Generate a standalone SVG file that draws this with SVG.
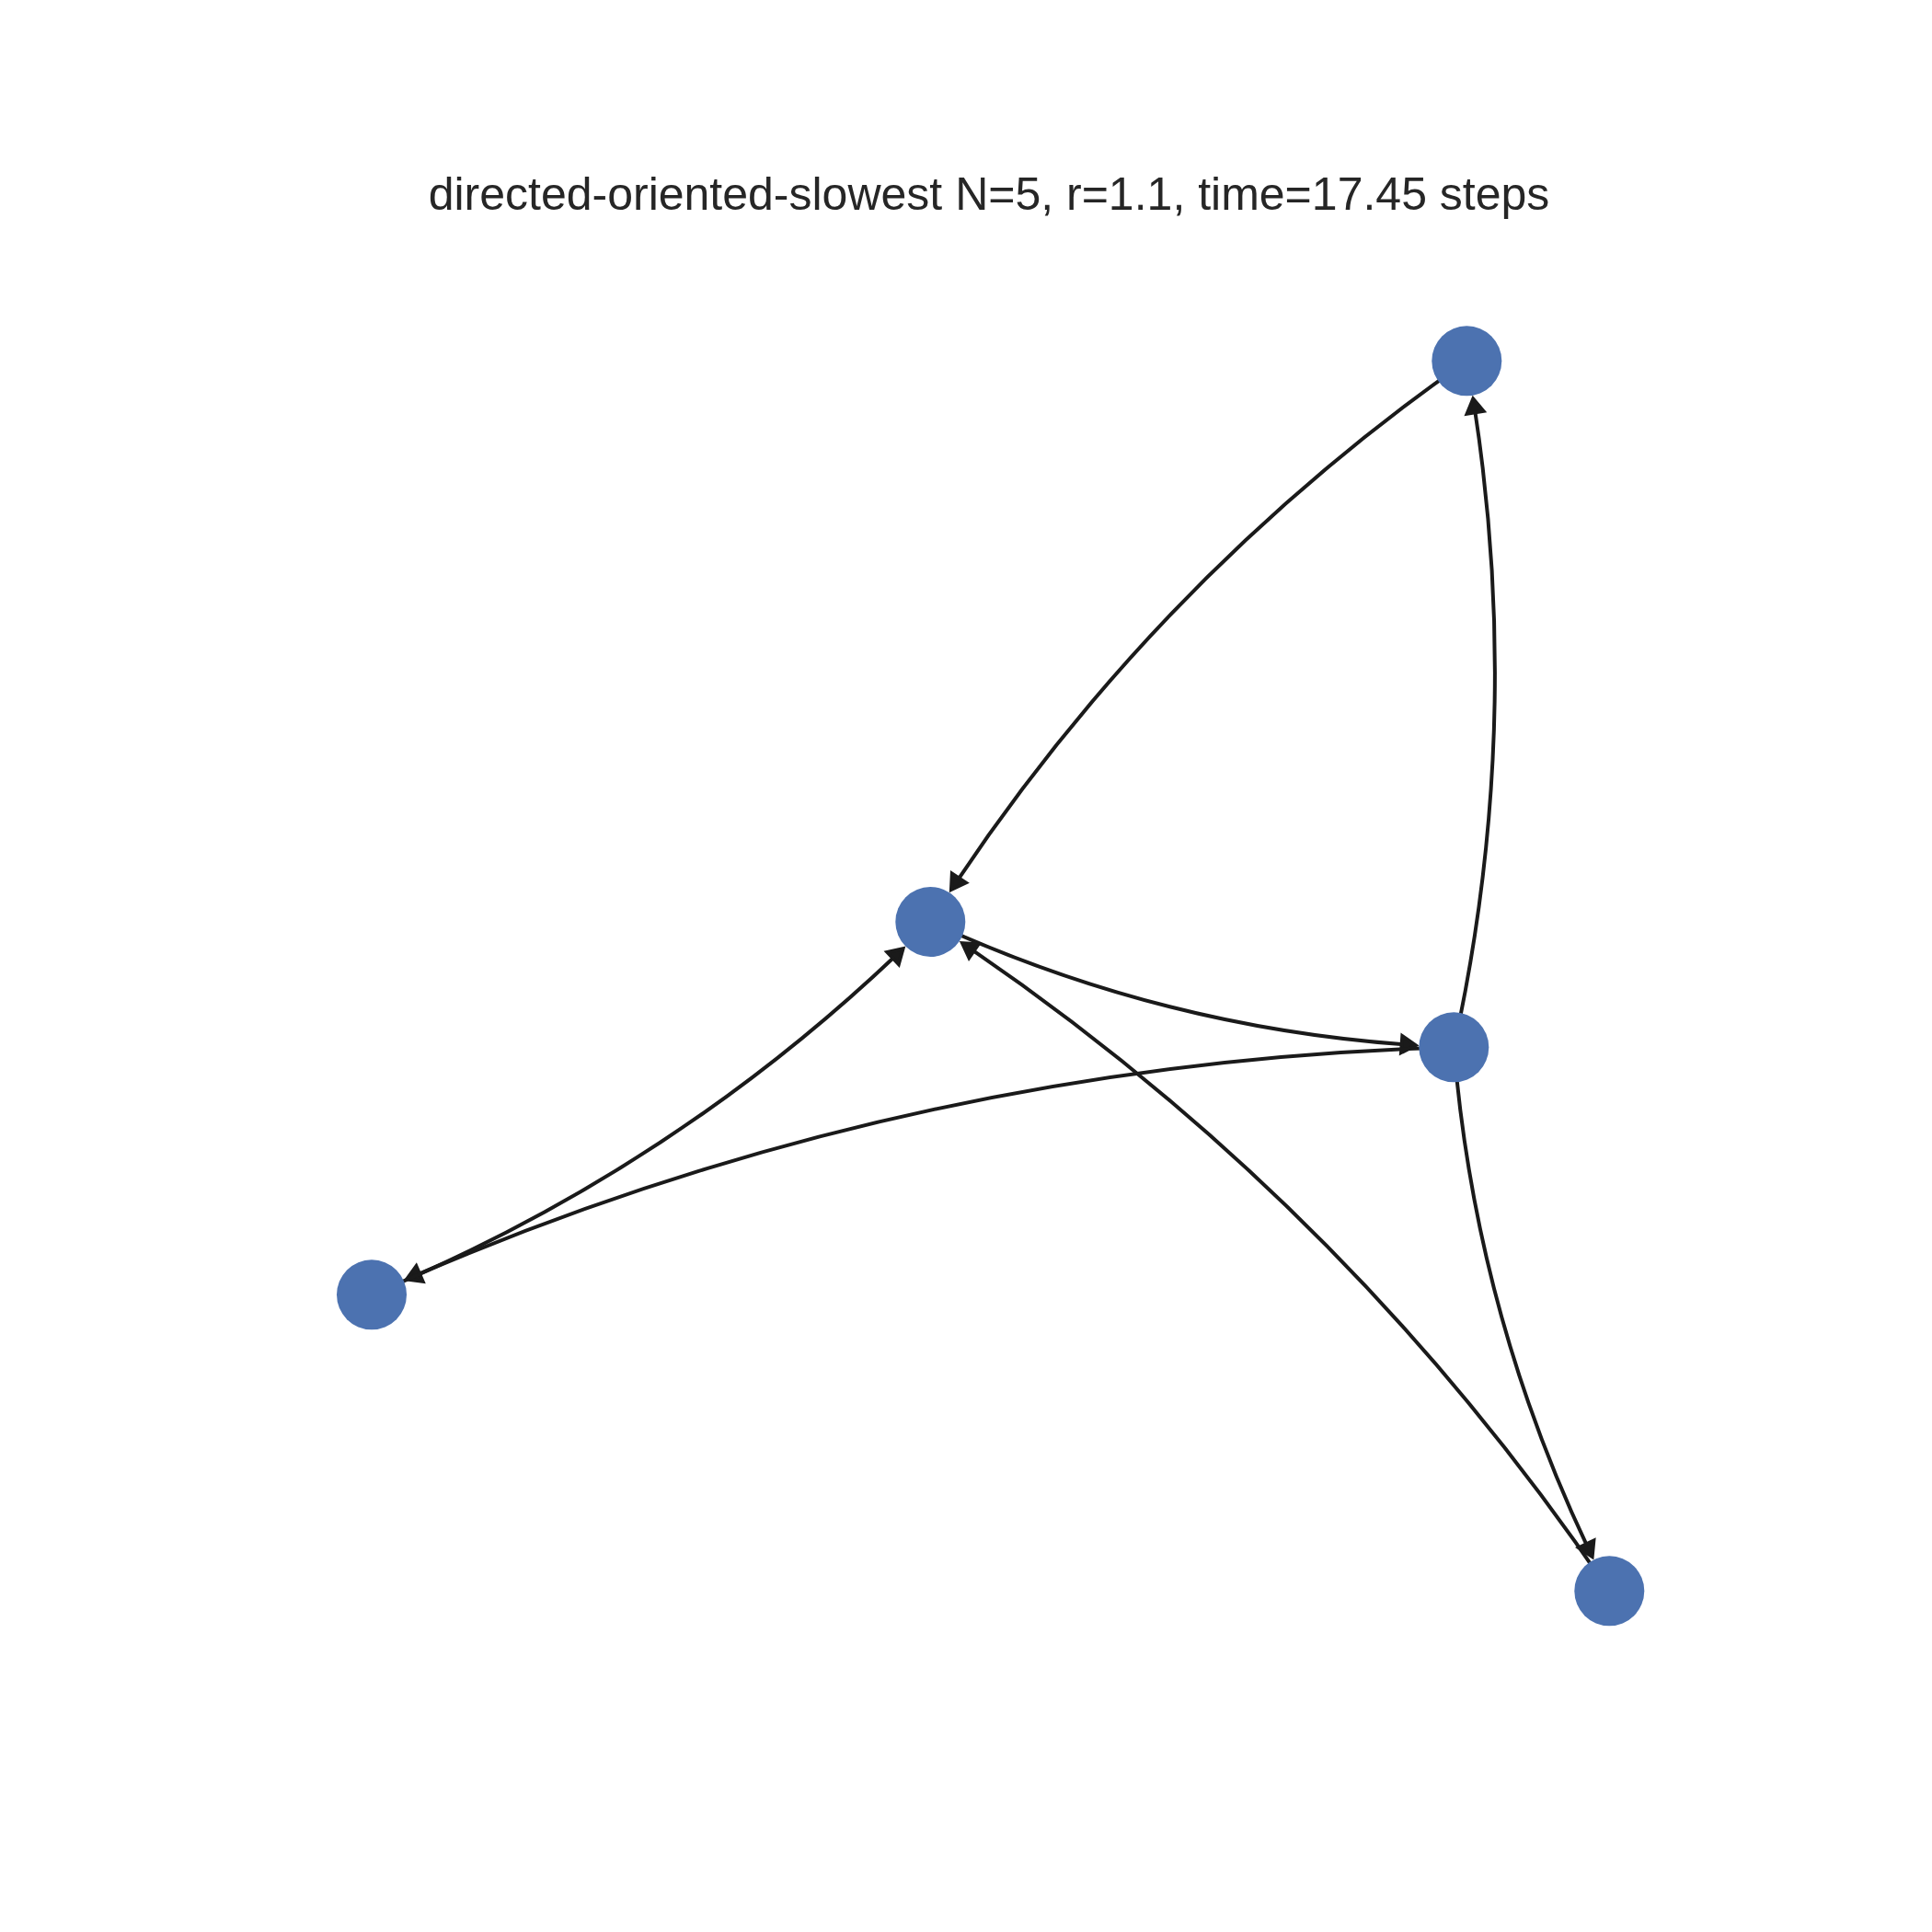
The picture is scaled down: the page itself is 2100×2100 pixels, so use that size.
<svg xmlns="http://www.w3.org/2000/svg" width="2100" height="2100" viewBox="0 0 2100 2100">
  <style>
    .edge { fill: none; stroke: #1a1a1a; stroke-width: 4; marker-end: url(#arrow); }
    .node { fill: #4c72b0; }
    .title { font-family: "Liberation Sans", Arial, sans-serif; font-size: 50px; fill: #262626; }
  </style>
  <defs>
    <marker id="arrow" markerUnits="userSpaceOnUse" orient="auto" refX="0" refY="0" markerWidth="40" markerHeight="40" overflow="visible">
      <path d="M 10.15 0 L -4.85 -9 L -4.85 9 Z" fill="#1a1a1a" stroke="#1a1a1a" stroke-width="4" stroke-linejoin="miter"/>
    </marker>
  </defs>
  <rect x="0" y="0" width="2100" height="2100" fill="#ffffff"/>
  <text class="title" x="1075" y="228" text-anchor="middle">directed-oriented-slowest N=5, r=1.1, time=17.45 steps</text>
  <g id="edges">
    <path id="e-A-B" class="edge" d="M 1594.3 392.3 Q 1263.1 624.0 1039.62 958.54"/>
    <path id="e-C-A" class="edge" d="M 1580.3 1138.3 Q 1656.3 792.1 1602.8 443.5"/>
    <path id="e-B-C" class="edge" d="M 1011.3 1002.0 Q 1258.6 1116.15 1528.5 1135.5"/>
    <path id="e-C-D" class="edge" d="M 1580.3 1138.3 Q 991.24 1154.46 451.53 1386.41"/>
    <path id="e-D-B" class="edge" d="M 404.0 1407.3 Q 724.14 1275.29 974.15 1038.19"/>
    <path id="e-E-B" class="edge" d="M 1749.3 1729.3 Q 1467.61 1313.38 1054.43 1030.88"/>
    <path id="e-C-E" class="edge" d="M 1580.3 1138.3 Q 1603.59 1424.78 1726.29 1682.84"/>
  </g>
  <g id="node-A"><circle class="node" cx="1594.3" cy="392.3" r="38"/></g>
  <g id="node-B"><circle class="node" cx="1011.3" cy="1002.0" r="38"/></g>
  <g id="node-C"><circle class="node" cx="1580.3" cy="1138.3" r="38"/></g>
  <g id="node-D"><circle class="node" cx="404.0" cy="1407.3" r="38"/></g>
  <g id="node-E"><circle class="node" cx="1749.3" cy="1729.3" r="38"/></g>
</svg>
